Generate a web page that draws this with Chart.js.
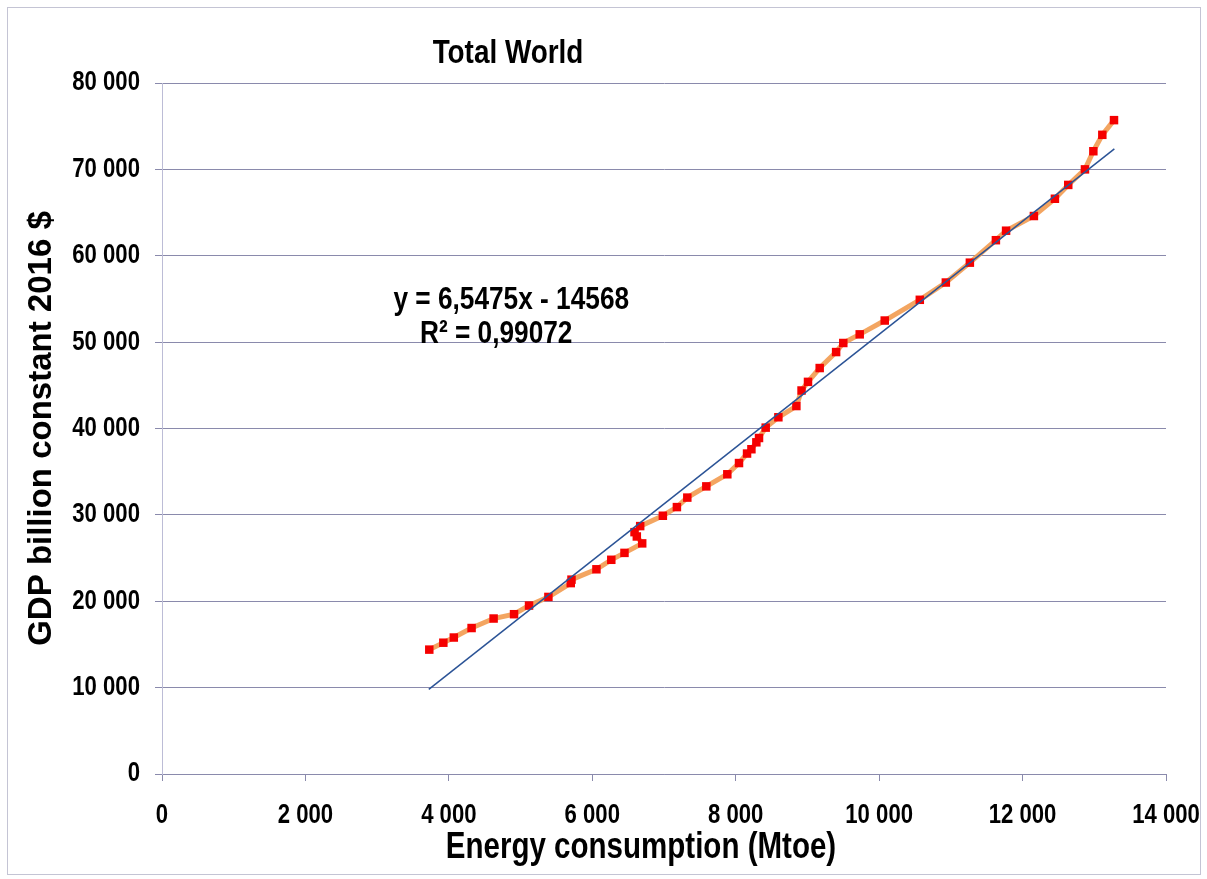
<!doctype html>
<html lang="en">
<head>
<meta charset="utf-8">
<title>Total World</title>
<style>
  html, body { margin: 0; padding: 0; background: #fff; }
  .wrap { position: relative; width: 1207px; height: 879px; }
  .frame { position: absolute; left: 7px; top: 7px; width: 1192px; height: 866px;
           border: 1px solid #c4c4d4; pointer-events: none; }
</style>
</head>
<body>
<div class="wrap">
  <canvas id="chart" width="1207" height="879"></canvas>
  <div class="frame"></div>
</div>
<script src="https://cdn.jsdelivr.net/npm/chart.js@4.4.4/dist/chart.umd.min.js"></script>
<script>
// Energy consumption (Mtoe) vs GDP (billion constant 2016 $).
const energy = [
  3727, 3923, 4069, 4317, 4624, 4909, 5118, 5388, 5700, 5710,
  6058, 6265, 6449, 6696, 6621, 6589, 6668, 6984, 7180, 7325,
  7590, 7883, 8046, 8158, 8219, 8288, 8325, 8418, 8595, 8846,
  8918, 9008, 9171, 9400, 9500, 9729, 10078, 10567, 10930, 11265,
  11628, 11770, 12158, 12451, 12637, 12870, 12987, 13112, 13275,
];
const gdp = [
  14400, 15200, 15800, 16900, 18000, 18500, 19500, 20500, 22100, 22500,
  23700, 24800, 25600, 26700, 27500, 28000, 28700, 29900, 30900, 32000,
  33300, 34700, 36000, 37100, 37600, 38400, 38900, 40100, 41300, 42600,
  44400, 45400, 47000, 48850, 49900, 50900, 52500, 54900, 56900, 59200,
  61800, 62900, 64600, 66600, 68200, 70000, 72100, 74000, 75700,
];
// Linear trendline end points as drawn.
const trendX = [3720, 13280];
const trendY = [9790, 72380];

const chartTitle = "Total World";
const xTitle = "Energy consumption (Mtoe)";
const yTitle = "GDP billion constant 2016 $";
const eqLines = ["y = 6,5475x - 14568", "R² = 0,99072"];

// No Arial Narrow here: "narrow" text is Liberation Sans squeezed horizontally.
// The Noto fallback in the list is just a marker the squeeze hook looks for.
const NARROW = "'Liberation Sans', 'Noto Sans', sans-serif";
const WIDE = "'Liberation Sans', Arial, sans-serif";
const SQUEEZE = 0.82;
const GRID = "#8a8aac";

const spaced = (v) => String(v).replace(/\B(?=(\d{3})+(?!\d))/g, " ");

const canvas = document.getElementById("chart");
const c2d = canvas.getContext("2d");
const rawFillText = c2d.fillText.bind(c2d);
c2d.fillText = function (text, x, y, maxWidth) {
  if (!this.font.includes("Noto Sans")) return rawFillText(text, x, y, maxWidth);
  this.save();
  this.translate(x, y);
  this.scale(SQUEEZE, 1);
  rawFillText(text, 0, 0);
  this.restore();
};

// Free-standing text: chart title, x axis title, trendline equation.
const textPlugin = {
  id: "texts",
  afterDraw(chart) {
    const { ctx, scales: { x, y } } = chart;
    ctx.save();
    ctx.fillStyle = "#000";
    ctx.textBaseline = "alphabetic";
    ctx.textAlign = "center";
    ctx.font = `bold 34px ${NARROW}`;
    ctx.fillText(chartTitle, 508, 63);
    ctx.font = `bold 36px ${NARROW}`;
    ctx.fillText(xTitle, 641, 858);
    ctx.font = `bold 32px ${NARROW}`;
    ctx.fillText(eqLines[0], x.getPixelForValue(4870), y.getPixelForValue(53800));
    ctx.fillText(eqLines[1], x.getPixelForValue(4660), y.getPixelForValue(49900));
    ctx.restore();
  },
};

const noOverflow = (s) => {
  s.paddingLeft = 0; s.paddingRight = 0; s.paddingTop = 0; s.paddingBottom = 0;
};

new Chart(canvas, {
  type: "scatter",
  data: {
    datasets: [
      {
        label: "Linear trend",
        data: trendX.map((v, i) => ({ x: v, y: trendY[i] })),
        showLine: true,
        borderColor: "#2b5396",
        borderWidth: 1.5,
        pointRadius: 0,
      },
      {
        label: "Total World",
        data: energy.map((v, i) => ({ x: v, y: gdp[i] })),
        showLine: true,
        borderColor: "rgba(242,160,88,0.95)",
        borderWidth: 5,
        tension: 0,
        pointStyle: "rect",
        pointRadius: 6,
        pointBackgroundColor: "#f50000",
        pointBorderWidth: 0,
      },
    ],
  },
  options: {
    responsive: false,
    animation: false,
    events: [],
    layout: { padding: { left: 0, top: 83, right: 41, bottom: 0 } },
    plugins: { legend: { display: false }, tooltip: { enabled: false } },
    scales: {
      x: {
        type: "linear", min: 0, max: 14000,
        afterFit: (s) => { s.height = 105; noOverflow(s); },
        grid: { drawOnChartArea: false, drawTicks: true, tickLength: 7, color: GRID },
        border: { color: GRID },
        ticks: {
          stepSize: 2000, padding: 18, color: "#000",
          font: { family: NARROW, size: 27, weight: "bold" },
          callback: spaced,
        },
      },
      y: {
        type: "linear", min: 0, max: 80000,
        afterFit: (s) => { s.width = 162; noOverflow(s); },
        grid: { color: GRID, tickLength: 7 },
        border: { color: "#bcbcd6" },
        ticks: {
          stepSize: 10000, padding: 15, color: "#000",
          font: { family: NARROW, size: 27, weight: "bold" },
          callback: spaced,
        },
        title: {
          display: true, text: yTitle, color: "#000",
          font: { family: WIDE, size: 33, weight: "bold" },
          padding: { top: 22, bottom: 0 },
        },
      },
    },
  },
  plugins: [textPlugin],
});
</script>
</body>
</html>
